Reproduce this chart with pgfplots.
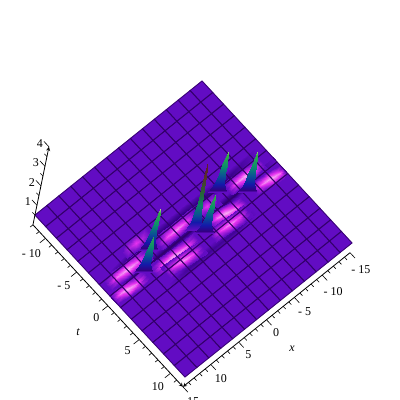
\documentclass[border=0pt]{standalone}
\usepackage{fontspec}
\setmainfont{Liberation Serif}
\usepackage{pgfplots}
\pgfplotsset{compat=1.18}

% axis unit vectors, read off the surface corners (1pt = 1 pixel)
\pgfplotsset{
  box3d/.style={
    at={(199.5pt,200.25pt)}, anchor=center, clip=false,
    xmin=-15, xmax=15, ymin=-12, ymax=12, zmin=0, zmax=4,
  },
  tickstyle/.style={
    axis line style={black, line width=0.8pt},
    tick style={draw=none},
    major tick length=8pt, minor tick length=4pt, tick align=outside,
    tick pos=left,
    tick label style={font=\fontsize{12}{14}\selectfont},
  },
  maincm/.style={
    colormap={sol}{[1pt]
      rgb255(0pt)=(250,190,245);
      rgb255(2pt)=(230,50,240);
      rgb255(5pt)=(98,12,195);
      rgb255(6pt)=(50,0,130);
      rgb255(9pt)=(20,25,170);
      rgb255(13pt)=(10,80,150);
      rgb255(18pt)=(10,140,110);
      rgb255(24pt)=(50,170,70);
      rgb255(27pt)=(240,240,160);
      rgb255(40pt)=(240,240,160)},
  },
  strip/.style={surf, shader=interp, mesh/cols=5, point meta=explicit},
  band/.style={surf, shader=interp, mesh/cols=4, point meta=explicit},
  spike/.style={surf, shader=interp, mesh/cols=3, point meta=z},
  ticks/.style={black, no marks, line width=0.6pt, unbounded coords=jump},
}

\begin{document}
\begin{tikzpicture}
\path[use as bounding box] (0pt,0pt) rectangle (400pt,400pt);
\clip (0pt,0pt) rectangle (400pt,400pt);

\begin{axis}[box3d, axis lines=none,
  x={(-5.57pt,-4.47pt)}, y={(6.25pt,-6.75pt)}, z={(4pt,19.5pt)},
  maincm, point meta min=0, point meta max=4]

% floor
\addplot3[surf, shader=flat, mesh/cols=2, point meta=explicit] coordinates {
 (-15,-12,.5) [.5] (15,-12,.5) [.5]
 (-15,12,.5) [.5] (15,12,.5) [.5]};

% dark bands along x
\addplot3[band] coordinates {
 (15,-.7,.5) [.5] (9,-.7,.5) [.5] (-9,-.7,.5) [.5] (-15,-.7,.5) [.5]
 (15,-.1,.5) [.5] (9,-.1,.5) [.62] (-9,-.1,.5) [.62] (-15,-.1,.5) [.5]
 (15,.4,.5) [.5] (9,.4,.5) [.5] (-9,.4,.5) [.5] (-15,.4,.5) [.5]};
\addplot3[band] coordinates {
 (14,-2.7,.5) [.5] (8,-2.7,.5) [.5] (-8,-2.7,.5) [.5] (-14,-2.7,.5) [.5]
 (14,-2,.5) [.5] (8,-2,.5) [.6] (-8,-2,.5) [.6] (-14,-2,.5) [.5]
 (14,-1.4,.5) [.5] (8,-1.4,.5) [.5] (-8,-1.4,.5) [.5] (-14,-1.4,.5) [.5]};
\addplot3[band] coordinates {
 (8,2.4,.5) [.5] (4,2.4,.5) [.5] (-4,2.4,.5) [.5] (-8,2.4,.5) [.5]
 (8,3,.5) [.5] (4,3,.5) [.57] (-4,3,.5) [.57] (-8,3,.5) [.5]
 (8,3.6,.5) [.5] (4,3.6,.5) [.5] (-4,3.6,.5) [.5] (-8,3.6,.5) [.5]};

% magenta stripes
\addplot3[strip] coordinates {
 (14.3,-2.03,.5) [.5] (12.4,-1.97,.5) [.5] (10.6,-1.9,.5) [.5] (8.9,-1.84,.5) [.5] (7,-1.78,.5) [.5]
 (14.3,-1.58,.5) [.5] (12.4,-1.52,.5) [.28] (10.6,-1.45,.5) [.18] (8.9,-1.39,.5) [.28] (7,-1.33,.5) [.5]
 (14.3,-1.23,.5) [.5] (12.4,-1.17,.5) [.1] (10.6,-1.1,.5) [.02] (8.9,-1.04,.5) [.1] (7,-.98,.5) [.5]
 (14.3,-.88,.5) [.5] (12.4,-.82,.5) [.28] (10.6,-.75,.5) [.18] (8.9,-.69,.5) [.28] (7,-.63,.5) [.5]
 (14.3,-.43,.5) [.5] (12.4,-.37,.5) [.5] (10.6,-.3,.5) [.5] (8.9,-.24,.5) [.5] (7,-.18,.5) [.5]};
\addplot3[strip] coordinates {
 (15,-.43,.5) [.5] (13.8,-.32,.5) [.5] (12.55,-.2,.5) [.5] (11.2,-.09,.5) [.5] (9.2,.02,.5) [.5]
 (15,.02,.5) [.5] (13.8,.13,.5) [.28] (12.55,.25,.5) [.18] (11.2,.36,.5) [.28] (9.2,.47,.5) [.5]
 (15,.37,.5) [.5] (13.8,.48,.5) [.1] (12.55,.6,.5) [.02] (11.2,.71,.5) [.1] (9.2,.82,.5) [.5]
 (15,.72,.5) [.5] (13.8,.83,.5) [.28] (12.55,.95,.5) [.18] (11.2,1.06,.5) [.28] (9.2,1.17,.5) [.5]
 (15,1.17,.5) [.5] (13.8,1.28,.5) [.5] (12.55,1.4,.5) [.5] (11.2,1.51,.5) [.5] (9.2,1.62,.5) [.5]};
\addplot3[strip] coordinates {
 (9.6,-3.65,.5) [.5] (8.2,-3.6,.5) [.5] (7.2,-3.54,.5) [.5] (6.2,-3.49,.5) [.5] (4.8,-3.43,.5) [.5]
 (9.6,-2.85,.5) [.5] (8.2,-2.8,.5) [.32] (7.2,-2.74,.5) [.2] (6.2,-2.69,.5) [.32] (4.8,-2.63,.5) [.5]
 (9.6,-2.05,.5) [.5] (8.2,-2,.5) [.5] (7.2,-1.94,.5) [.5] (6.2,-1.89,.5) [.5] (4.8,-1.83,.5) [.5]};
\addplot3[strip] coordinates {
 (5.2,-1.94,.5) [.5] (3.4,-1.94,.5) [.5] (1.75,-1.95,.5) [.5] (.1,-1.96,.5) [.5] (-1.7,-1.97,.5) [.5]
 (5.2,-1.49,.5) [.5] (3.4,-1.49,.5) [.32] (1.75,-1.5,.5) [.24] (.1,-1.51,.5) [.32] (-1.7,-1.52,.5) [.5]
 (5.2,-1.14,.5) [.5] (3.4,-1.14,.5) [.16] (1.75,-1.15,.5) [.06] (.1,-1.16,.5) [.16] (-1.7,-1.17,.5) [.5]
 (5.2,-.79,.5) [.5] (3.4,-.79,.5) [.32] (1.75,-.8,.5) [.24] (.1,-.81,.5) [.32] (-1.7,-.82,.5) [.5]
 (5.2,-.34,.5) [.5] (3.4,-.34,.5) [.5] (1.75,-.35,.5) [.5] (.1,-.36,.5) [.5] (-1.7,-.37,.5) [.5]};
\addplot3[strip] coordinates {
 (8.3,.01,.5) [.5] (6.3,.08,.5) [.5] (4.4,.15,.5) [.5] (2.5,.22,.5) [.5] (.5,.29,.5) [.5]
 (8.3,.46,.5) [.5] (6.3,.53,.5) [.28] (4.4,.6,.5) [.18] (2.5,.67,.5) [.28] (.5,.74,.5) [.5]
 (8.3,.81,.5) [.5] (6.3,.88,.5) [.1] (4.4,.95,.5) [.02] (2.5,1.02,.5) [.1] (.5,1.09,.5) [.5]
 (8.3,1.16,.5) [.5] (6.3,1.23,.5) [.28] (4.4,1.3,.5) [.18] (2.5,1.37,.5) [.28] (.5,1.44,.5) [.5]
 (8.3,1.61,.5) [.5] (6.3,1.68,.5) [.5] (4.4,1.75,.5) [.5] (2.5,1.82,.5) [.5] (.5,1.89,.5) [.5]};
\addplot3[strip] coordinates {
 (7.1,.91,.5) [.5] (5.5,1.03,.5) [.5] (3.95,1.15,.5) [.5] (2.4,1.27,.5) [.5] (.8,1.39,.5) [.5]
 (7.1,1.36,.5) [.5] (5.5,1.48,.5) [.32] (3.95,1.6,.5) [.24] (2.4,1.72,.5) [.32] (.8,1.84,.5) [.5]
 (7.1,1.71,.5) [.5] (5.5,1.83,.5) [.16] (3.95,1.95,.5) [.06] (2.4,2.07,.5) [.16] (.8,2.19,.5) [.5]
 (7.1,2.06,.5) [.5] (5.5,2.18,.5) [.32] (3.95,2.3,.5) [.24] (2.4,2.42,.5) [.32] (.8,2.54,.5) [.5]
 (7.1,2.51,.5) [.5] (5.5,2.63,.5) [.5] (3.95,2.75,.5) [.5] (2.4,2.87,.5) [.5] (.8,2.99,.5) [.5]};
\addplot3[strip] coordinates {
 (-2,-.4,.5) [.5] (-3.5,-.17,.5) [.5] (-4.95,.05,.5) [.5] (-6.4,.28,.5) [.5] (-7.9,.5,.5) [.5]
 (-2,.05,.5) [.5] (-3.5,.28,.5) [.28] (-4.95,.5,.5) [.18] (-6.4,.73,.5) [.28] (-7.9,.95,.5) [.5]
 (-2,.4,.5) [.5] (-3.5,.63,.5) [.1] (-4.95,.85,.5) [.02] (-6.4,1.08,.5) [.1] (-7.9,1.3,.5) [.5]
 (-2,.75,.5) [.5] (-3.5,.98,.5) [.28] (-4.95,1.2,.5) [.18] (-6.4,1.43,.5) [.28] (-7.9,1.65,.5) [.5]
 (-2,1.2,.5) [.5] (-3.5,1.43,.5) [.5] (-4.95,1.65,.5) [.5] (-6.4,1.88,.5) [.5] (-7.9,2.1,.5) [.5]};
\addplot3[strip] coordinates {
 (-1.1,1.06,.5) [.5] (-2.7,1.14,.5) [.5] (-4.25,1.22,.5) [.5] (-5.8,1.31,.5) [.5] (-7.4,1.39,.5) [.5]
 (-1.1,1.51,.5) [.5] (-2.7,1.59,.5) [.32] (-4.25,1.67,.5) [.24] (-5.8,1.76,.5) [.32] (-7.4,1.84,.5) [.5]
 (-1.1,1.86,.5) [.5] (-2.7,1.94,.5) [.16] (-4.25,2.02,.5) [.06] (-5.8,2.11,.5) [.16] (-7.4,2.19,.5) [.5]
 (-1.1,2.21,.5) [.5] (-2.7,2.29,.5) [.32] (-4.25,2.37,.5) [.24] (-5.8,2.46,.5) [.32] (-7.4,2.54,.5) [.5]
 (-1.1,2.66,.5) [.5] (-2.7,2.74,.5) [.5] (-4.25,2.82,.5) [.5] (-5.8,2.91,.5) [.5] (-7.4,2.99,.5) [.5]};
\addplot3[strip] coordinates {
 (-7.2,-1.91,.5) [.5] (-8.8,-1.85,.5) [.5] (-10.3,-1.78,.5) [.5] (-11.8,-1.72,.5) [.5] (-13.4,-1.65,.5) [.5]
 (-7.2,-1.46,.5) [.5] (-8.8,-1.4,.5) [.28] (-10.3,-1.33,.5) [.18] (-11.8,-1.27,.5) [.28] (-13.4,-1.2,.5) [.5]
 (-7.2,-1.11,.5) [.5] (-8.8,-1.05,.5) [.1] (-10.3,-.98,.5) [.02] (-11.8,-.92,.5) [.1] (-13.4,-.85,.5) [.5]
 (-7.2,-.76,.5) [.5] (-8.8,-.7,.5) [.28] (-10.3,-.63,.5) [.18] (-11.8,-.57,.5) [.28] (-13.4,-.5,.5) [.5]
 (-7.2,-.31,.5) [.5] (-8.8,-.25,.5) [.5] (-10.3,-.18,.5) [.5] (-11.8,-.12,.5) [.5] (-13.4,-.05,.5) [.5]};
\addplot3[strip] coordinates {
 (-9.8,-.14,.5) [.5] (-11.3,.01,.5) [.5] (-12.75,.16,.5) [.5] (-14.2,.31,.5) [.5] (-15,.46,.5) [.5]
 (-9.8,.31,.5) [.5] (-11.3,.46,.5) [.28] (-12.75,.61,.5) [.18] (-14.2,.76,.5) [.28] (-15,.91,.5) [.5]
 (-9.8,.66,.5) [.5] (-11.3,.81,.5) [.1] (-12.75,.96,.5) [.02] (-14.2,1.11,.5) [.1] (-15,1.26,.5) [.5]
 (-9.8,1.01,.5) [.5] (-11.3,1.16,.5) [.28] (-12.75,1.31,.5) [.18] (-14.2,1.46,.5) [.28] (-15,1.61,.5) [.5]
 (-9.8,1.46,.5) [.5] (-11.3,1.61,.5) [.5] (-12.75,1.76,.5) [.5] (-14.2,1.91,.5) [.5] (-15,2.06,.5) [.5]};
\addplot3[strip] coordinates {
 (-1.8,-1.97,.5) [.5] (-2.8,-1.92,.5) [.5] (-3.55,-1.86,.5) [.5] (-4.3,-1.81,.5) [.5] (-5.3,-1.76,.5) [.5]
 (-1.8,-1.17,.5) [.5] (-2.8,-1.12,.5) [.32] (-3.55,-1.06,.5) [.2] (-4.3,-1.01,.5) [.32] (-5.3,-.96,.5) [.5]
 (-1.8,-.37,.5) [.5] (-2.8,-.32,.5) [.5] (-3.55,-.26,.5) [.5] (-4.3,-.21,.5) [.5] (-5.3,-.16,.5) [.5]};

% grid lines of the surface
\addplot3[mesh, mesh/cols=15, point meta=z, line width=0.9pt, opacity=0.85,
  colormap={gl}{rgb255=(50,0,105) rgb255=(50,0,105)}] coordinates {
(-15,-12,.5) (-12.86,-12,.5) (-10.71,-12,.5) (-8.57,-12,.5) (-6.43,-12,.5) (-4.29,-12,.5) (-2.14,-12,.5) (0,-12,.5) (2.14,-12,.5) (4.29,-12,.5) (6.43,-12,.5) (8.57,-12,.5) (10.71,-12,.5) (12.86,-12,.5) (15,-12,.5)
(-15,-10.29,.5) (-12.86,-10.29,.5) (-10.71,-10.29,.5) (-8.57,-10.29,.5) (-6.43,-10.29,.5) (-4.29,-10.29,.5) (-2.14,-10.29,.5) (0,-10.29,.5) (2.14,-10.29,.5) (4.29,-10.29,.5) (6.43,-10.29,.5) (8.57,-10.29,.5) (10.71,-10.29,.5) (12.86,-10.29,.5) (15,-10.29,.5)
(-15,-8.57,.5) (-12.86,-8.57,.5) (-10.71,-8.57,.5) (-8.57,-8.57,.5) (-6.43,-8.57,.5) (-4.29,-8.57,.5) (-2.14,-8.57,.5) (0,-8.57,.5) (2.14,-8.57,.5) (4.29,-8.57,.5) (6.43,-8.57,.5) (8.57,-8.57,.5) (10.71,-8.57,.5) (12.86,-8.57,.5) (15,-8.57,.5)
(-15,-6.86,.5) (-12.86,-6.86,.5) (-10.71,-6.86,.5) (-8.57,-6.86,.5) (-6.43,-6.86,.5) (-4.29,-6.86,.5) (-2.14,-6.86,.5) (0,-6.86,.5) (2.14,-6.86,.5) (4.29,-6.86,.5) (6.43,-6.86,.5) (8.57,-6.86,.5) (10.71,-6.86,.5) (12.86,-6.86,.5) (15,-6.86,.5)
(-15,-5.14,.5) (-12.86,-5.14,.5) (-10.71,-5.14,.5) (-8.57,-5.14,.5) (-6.43,-5.14,.5) (-4.29,-5.14,.5) (-2.14,-5.14,.5) (0,-5.14,.5) (2.14,-5.14,.5) (4.29,-5.14,.5) (6.43,-5.14,.5) (8.57,-5.14,.5) (10.71,-5.14,.5) (12.86,-5.14,.5) (15,-5.14,.5)
(-15,-3.43,.5) (-12.86,-3.43,.5) (-10.71,-3.43,.5) (-8.57,-3.43,.5) (-6.43,-3.43,.5) (-4.29,-3.43,.5) (-2.14,-3.43,.5) (0,-3.43,.5) (2.14,-3.43,.5) (4.29,-3.43,.5) (6.43,-3.43,.5) (8.57,-3.43,.5) (10.71,-3.43,.5) (12.86,-3.43,.5) (15,-3.43,.5)
(-15,-1.71,.5) (-12.86,-1.71,.5) (-10.71,-1.71,.5) (-8.57,-1.71,.5) (-6.43,-1.71,.5) (-4.29,-1.71,.5) (-2.14,-1.71,.5) (0,-1.71,.5) (2.14,-1.71,.5) (4.29,-1.71,.5) (6.43,-1.71,.5) (8.57,-1.71,.5) (10.71,-1.71,.5) (12.86,-1.71,.5) (15,-1.71,.5)
(-15,0,.5) (-12.86,0,.5) (-10.71,0,.5) (-8.57,0,.5) (-6.43,0,.5) (-4.29,0,.5) (-2.14,0,.5) (0,0,.5) (2.14,0,.5) (4.29,0,.5) (6.43,0,.5) (8.57,0,.5) (10.71,0,.5) (12.86,0,.5) (15,0,.5)
(-15,1.71,.5) (-12.86,1.71,.5) (-10.71,1.71,.5) (-8.57,1.71,.5) (-6.43,1.71,.5) (-4.29,1.71,.5) (-2.14,1.71,.5) (0,1.71,.5) (2.14,1.71,.5) (4.29,1.71,.5) (6.43,1.71,.5) (8.57,1.71,.5) (10.71,1.71,.5) (12.86,1.71,.5) (15,1.71,.5)
(-15,3.43,.5) (-12.86,3.43,.5) (-10.71,3.43,.5) (-8.57,3.43,.5) (-6.43,3.43,.5) (-4.29,3.43,.5) (-2.14,3.43,.5) (0,3.43,.5) (2.14,3.43,.5) (4.29,3.43,.5) (6.43,3.43,.5) (8.57,3.43,.5) (10.71,3.43,.5) (12.86,3.43,.5) (15,3.43,.5)
(-15,5.14,.5) (-12.86,5.14,.5) (-10.71,5.14,.5) (-8.57,5.14,.5) (-6.43,5.14,.5) (-4.29,5.14,.5) (-2.14,5.14,.5) (0,5.14,.5) (2.14,5.14,.5) (4.29,5.14,.5) (6.43,5.14,.5) (8.57,5.14,.5) (10.71,5.14,.5) (12.86,5.14,.5) (15,5.14,.5)
(-15,6.86,.5) (-12.86,6.86,.5) (-10.71,6.86,.5) (-8.57,6.86,.5) (-6.43,6.86,.5) (-4.29,6.86,.5) (-2.14,6.86,.5) (0,6.86,.5) (2.14,6.86,.5) (4.29,6.86,.5) (6.43,6.86,.5) (8.57,6.86,.5) (10.71,6.86,.5) (12.86,6.86,.5) (15,6.86,.5)
(-15,8.57,.5) (-12.86,8.57,.5) (-10.71,8.57,.5) (-8.57,8.57,.5) (-6.43,8.57,.5) (-4.29,8.57,.5) (-2.14,8.57,.5) (0,8.57,.5) (2.14,8.57,.5) (4.29,8.57,.5) (6.43,8.57,.5) (8.57,8.57,.5) (10.71,8.57,.5) (12.86,8.57,.5) (15,8.57,.5)
(-15,10.29,.5) (-12.86,10.29,.5) (-10.71,10.29,.5) (-8.57,10.29,.5) (-6.43,10.29,.5) (-4.29,10.29,.5) (-2.14,10.29,.5) (0,10.29,.5) (2.14,10.29,.5) (4.29,10.29,.5) (6.43,10.29,.5) (8.57,10.29,.5) (10.71,10.29,.5) (12.86,10.29,.5) (15,10.29,.5)
(-15,12,.5) (-12.86,12,.5) (-10.71,12,.5) (-8.57,12,.5) (-6.43,12,.5) (-4.29,12,.5) (-2.14,12,.5) (0,12,.5) (2.14,12,.5) (4.29,12,.5) (6.43,12,.5) (8.57,12,.5) (10.71,12,.5) (12.86,12,.5) (15,12,.5)};

% spikes, back to front
\addplot3[spike] coordinates { % F
 (-8.11,-.11,.5) (-9.04,.5,.5) (-9.97,1.11,.5)
 (-8.58,.19,.9) (-9.09,.53,.9) (-9.6,.87,.9)
 (-8.82,.35,1.4) (-9.15,.57,1.4) (-9.48,.79,1.4)
 (-8.99,.46,1.9) (-9.2,.6,1.9) (-9.41,.74,1.9)
 (-9.29,.66,2.65) (-9.29,.66,2.65) (-9.29,.66,2.65)};
\addplot3[spike] coordinates { % D
 (-5.02,-2.15,.5) (-5.95,-1.54,.5) (-6.88,-.93,.5)
 (-5.5,-1.84,.9) (-6.01,-1.5,.9) (-6.52,-1.16,.9)
 (-5.75,-1.68,1.4) (-6.08,-1.46,1.4) (-6.41,-1.24,1.4)
 (-5.94,-1.55,1.9) (-6.15,-1.41,1.9) (-6.36,-1.27,1.9)
 (-6.24,-1.35,2.55) (-6.24,-1.35,2.55) (-6.24,-1.35,2.55)};
\addplot3[spike, colormap={tall}{[1pt]
      rgb255(0pt)=(98,12,195); rgb255(5pt)=(98,12,195);
      rgb255(9pt)=(20,25,170); rgb255(13pt)=(10,80,150);
      rgb255(18pt)=(10,130,100); rgb255(24pt)=(40,100,55);
      rgb255(32pt)=(85,50,45); rgb255(40pt)=(100,25,40)}] coordinates { % C
 (.97,-.49,.5) (.04,.12,.5) (-.89,.73,.5)
 (.57,-.22,.9) (.05,.12,.9) (-.47,.46,.9)
 (.38,-.09,1.4) (.05,.13,1.4) (-.28,.35,1.4)
 (.26,-.01,1.9) (.05,.13,1.9) (-.16,.27,1.9)
 (.22,.02,2.6) (.06,.13,2.6) (-.11,.24,2.6)
 (.16,.06,3.3) (.06,.13,3.3) (-.04,.2,3.3)
 (.07,.14,4) (.07,.14,4) (.07,.14,4)};
\addplot3[spike] coordinates { % E
 (.23,.45,.5) (-.7,1.06,.5) (-1.63,1.67,.5)
 (-.26,.77,.9) (-.77,1.11,.9) (-1.28,1.45,.9)
 (-.52,.94,1.4) (-.85,1.16,1.4) (-1.18,1.38,1.4)
 (-.73,1.08,1.9) (-.94,1.22,1.9) (-1.15,1.36,1.9)
 (-1.03,1.28,2.45) (-1.03,1.28,2.45) (-1.03,1.28,2.45)};
\addplot3[spike] coordinates { % A
 (7.62,-1.93,.5) (6.69,-1.32,.5) (5.76,-.71,.5)
 (7.13,-1.61,.9) (6.61,-1.27,.9) (6.1,-.93,.9)
 (6.84,-1.43,1.4) (6.51,-1.21,1.4) (6.18,-.99,1.4)
 (6.62,-1.28,1.9) (6.41,-1.14,1.9) (6.2,-1,1.9)
 (6.25,-1.04,2.7) (6.25,-1.04,2.7) (6.25,-1.04,2.7)};
\addplot3[spike] coordinates { % B
 (10.23,-.4,.5) (9.3,.21,.5) (8.37,.82,.5)
 (9.74,-.07,.9) (9.22,.27,.9) (8.7,.61,.9)
 (9.45,.11,1.4) (9.12,.33,1.4) (8.79,.55,1.4)
 (9.24,.26,1.9) (9.03,.4,1.9) (8.82,.54,1.9)
 (8.94,.46,2.35) (8.94,.46,2.35) (8.94,.46,2.35)};

% tick marks: x axis ticks run along +t, t axis ticks along +x, z axis ticks along -t
\addplot3[ticks] coordinates {
(-15,12,0) (-15,12.8,0) (nan,0,0) (-14,12,0) (-14,12.4,0) (nan,0,0) (-13,12,0) (-13,12.4,0) (nan,0,0) (-12,12,0) (-12,12.4,0) (nan,0,0) (-11,12,0) (-11,12.4,0) (nan,0,0)
(-10,12,0) (-10,12.8,0) (nan,0,0) (-9,12,0) (-9,12.4,0) (nan,0,0) (-8,12,0) (-8,12.4,0) (nan,0,0) (-7,12,0) (-7,12.4,0) (nan,0,0) (-6,12,0) (-6,12.4,0) (nan,0,0)
(-5,12,0) (-5,12.8,0) (nan,0,0) (-4,12,0) (-4,12.4,0) (nan,0,0) (-3,12,0) (-3,12.4,0) (nan,0,0) (-2,12,0) (-2,12.4,0) (nan,0,0) (-1,12,0) (-1,12.4,0) (nan,0,0)
(0,12,0) (0,12.8,0) (nan,0,0) (1,12,0) (1,12.4,0) (nan,0,0) (2,12,0) (2,12.4,0) (nan,0,0) (3,12,0) (3,12.4,0) (nan,0,0) (4,12,0) (4,12.4,0) (nan,0,0)
(5,12,0) (5,12.8,0) (nan,0,0) (6,12,0) (6,12.4,0) (nan,0,0) (7,12,0) (7,12.4,0) (nan,0,0) (8,12,0) (8,12.4,0) (nan,0,0) (9,12,0) (9,12.4,0) (nan,0,0)
(10,12,0) (10,12.8,0) (nan,0,0) (11,12,0) (11,12.4,0) (nan,0,0) (12,12,0) (12,12.4,0) (nan,0,0) (13,12,0) (13,12.4,0) (nan,0,0) (14,12,0) (14,12.4,0) (nan,0,0)
(15,12,0) (15,12.8,0) (nan,0,0)
(15,-12,0) (15.5,-12,0) (nan,0,0) (15,-11,0) (15.5,-11,0) (nan,0,0)
(15,-10,0) (16,-10,0) (nan,0,0) (15,-9,0) (15.5,-9,0) (nan,0,0) (15,-8,0) (15.5,-8,0) (nan,0,0) (15,-7,0) (15.5,-7,0) (nan,0,0) (15,-6,0) (15.5,-6,0) (nan,0,0)
(15,-5,0) (16,-5,0) (nan,0,0) (15,-4,0) (15.5,-4,0) (nan,0,0) (15,-3,0) (15.5,-3,0) (nan,0,0) (15,-2,0) (15.5,-2,0) (nan,0,0) (15,-1,0) (15.5,-1,0) (nan,0,0)
(15,0,0) (16,0,0) (nan,0,0) (15,1,0) (15.5,1,0) (nan,0,0) (15,2,0) (15.5,2,0) (nan,0,0) (15,3,0) (15.5,3,0) (nan,0,0) (15,4,0) (15.5,4,0) (nan,0,0)
(15,5,0) (16,5,0) (nan,0,0) (15,6,0) (15.5,6,0) (nan,0,0) (15,7,0) (15.5,7,0) (nan,0,0) (15,8,0) (15.5,8,0) (nan,0,0) (15,9,0) (15.5,9,0) (nan,0,0)
(15,10,0) (16,10,0) (nan,0,0) (15,11,0) (15.5,11,0) (nan,0,0)
(15,-12,.5) (15,-12.4,.5) (nan,0,0) (15,-12,1) (15,-12.8,1) (nan,0,0) (15,-12,1.5) (15,-12.4,1.5) (nan,0,0) (15,-12,2) (15,-12.8,2) (nan,0,0)
(15,-12,2.5) (15,-12.4,2.5) (nan,0,0) (15,-12,3) (15,-12.8,3) (nan,0,0) (15,-12,3.5) (15,-12.4,3.5) (nan,0,0) (15,-12,4) (15,-12.8,4)};
\end{axis}

% x axis, on the edge t=12 (y reversed, so ymin is that edge)
\begin{axis}[box3d, tickstyle,
  x={(-5.57pt,-4.47pt)}, y={(-6.25pt,6.75pt)}, z={(4pt,19.5pt)},
  axis x line=bottom, axis y line=none, axis z line=none,
  xticklabel style={xshift=4pt, yshift=1pt},
  xtick={-15,-10,-5,0,5,10,15},
  xticklabels={- 15,- 10,- 5,0,5,10,15}]
\end{axis}

% t and z axes, on the edge x=15 (x reversed, so xmin is that edge)
\begin{axis}[box3d, tickstyle,
  x={(5.57pt,4.47pt)}, y={(6.25pt,-6.75pt)}, z={(4pt,19.5pt)},
  axis x line=none, axis y line=left, axis z line=left,
  yticklabel style={xshift=-3pt},
  ytick={-10,-5,0,5,10},
  yticklabels={- 10,- 5,0,5,10},
  ztick={1,2,3,4}, zticklabels={1,2,3,4}]
\end{axis}

\node[font=\fontsize{12}{14}\selectfont\itshape] at (78pt,68pt) {t};
\node[font=\fontsize{12}{14}\selectfont\itshape] at (292pt,51pt) {x};
\end{tikzpicture}
\end{document}
